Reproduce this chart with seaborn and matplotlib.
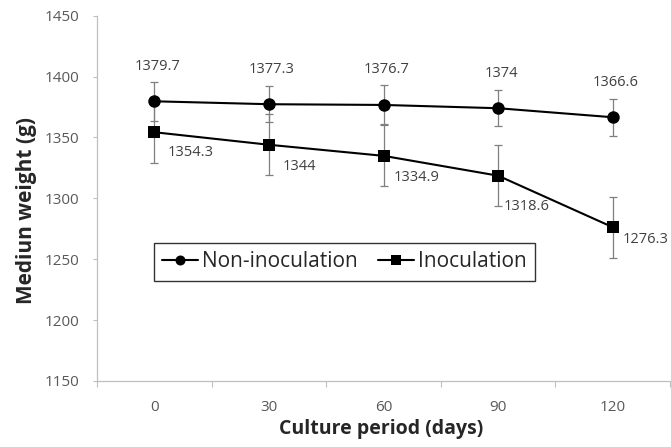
import pandas as pd
import matplotlib.pyplot as plt
import seaborn as sns

# Data
days = ['0', '30', '60', '90', '120']
non_inoc = [1379.7, 1377.3, 1376.7, 1374.0, 1366.6]
non_inoc_err = [16, 15, 16, 15, 15]
inoc = [1354.3, 1344.0, 1334.9, 1318.6, 1276.3]
inoc_err = [25, 25, 25, 25, 25]
value_labels_non = ['1379.7', '1377.3', '1376.7', '1374', '1366.6']
value_labels_inoc = ['1354.3', '1344', '1334.9', '1318.6', '1276.3']

df = pd.DataFrame({
    'day': days * 2,
    'weight': non_inoc + inoc,
    'group': ['Non-inoculation'] * 5 + ['Inoculation'] * 5,
})

sns.set_style('white')
plt.rcParams['font.family'] = ['Open Sans', 'DejaVu Sans']

fig = plt.figure(figsize=(6.71, 4.47), dpi=100)
ax = fig.add_axes([0.1446, 0.1477, 0.8539, 0.8172])

pos = list(range(len(days)))
# error bars first, so the lines sit on top
ax.errorbar(pos, non_inoc, yerr=non_inoc_err, fmt='none', ecolor='#7f7f7f',
            elinewidth=0.9, capsize=3, capthick=0.9, zorder=1)
ax.errorbar(pos, inoc, yerr=inoc_err, fmt='none', ecolor='#7f7f7f',
            elinewidth=0.9, capsize=3, capthick=0.9, zorder=1)

sns.lineplot(data=df, x='day', y='weight', hue='group', style='group',
             palette=['black', 'black'], markers={'Non-inoculation': 'o', 'Inoculation': 's'},
             dashes=False, markersize=9, linewidth=1.5, markeredgewidth=0,
             ax=ax, zorder=3)

# value labels
for i, (v, t) in enumerate(zip(non_inoc, value_labels_non)):
    ax.annotate(t, (i, v), xytext=(3, 35), textcoords='offset pixels',
                ha='center', va='center', fontsize=10.5, color='#404040')
inoc_off = [(13, -20), (14, -22), (10, -22), (6, -31), (10, -12)]
for i, (v, t) in enumerate(zip(inoc, value_labels_inoc)):
    dx, dy = inoc_off[i]
    ax.annotate(t, (i, v), xytext=(dx, dy), textcoords='offset pixels',
                ha='left', va='center', fontsize=10.5, color='#404040')

ax.set_xlim(-0.5, 4.5)
ax.set_ylim(1150, 1450)
ax.set_yticks(range(1150, 1451, 50))
ax.set_xticks([p - 0.5 for p in range(6)])
ax.set_xticklabels([])
ax.set_xticks(pos, minor=True)
ax.set_xticklabels(days, minor=True)
ax.tick_params(axis='x', which='major', length=4, width=0.8, color='#bfbfbf', direction='out', bottom=True)
ax.tick_params(axis='x', which='minor', length=0, pad=14, labelsize=11, labelcolor='#595959', bottom=True)
ax.tick_params(axis='y', length=3, width=0.8, color='#bfbfbf', direction='out', pad=10,
               labelsize=11, labelcolor='#595959', left=True)

for s in ['top', 'right']:
    ax.spines[s].set_visible(False)
for s in ['left', 'bottom']:
    ax.spines[s].set_color('#bfbfbf')
    ax.spines[s].set_linewidth(0.9)

ax.set_xlabel('Culture period (days)', fontsize=14, fontweight='bold')
ax.set_ylabel('Mediun weight (g)', fontsize=15, fontweight='bold')
ax.xaxis.set_label_coords(0.496, -0.105)
ax.yaxis.set_label_coords(-0.105, 0.466)

leg = ax.legend(loc='center', bbox_to_anchor=(0.432, 0.326), ncol=2, fontsize=15,
                frameon=True, fancybox=False, edgecolor='black', handlelength=1.7,
                handletextpad=0.2, columnspacing=1.0, borderpad=0.4, markerscale=0.8)
leg.get_frame().set_linewidth(1.0)

fig.savefig('out.png', dpi=100)
